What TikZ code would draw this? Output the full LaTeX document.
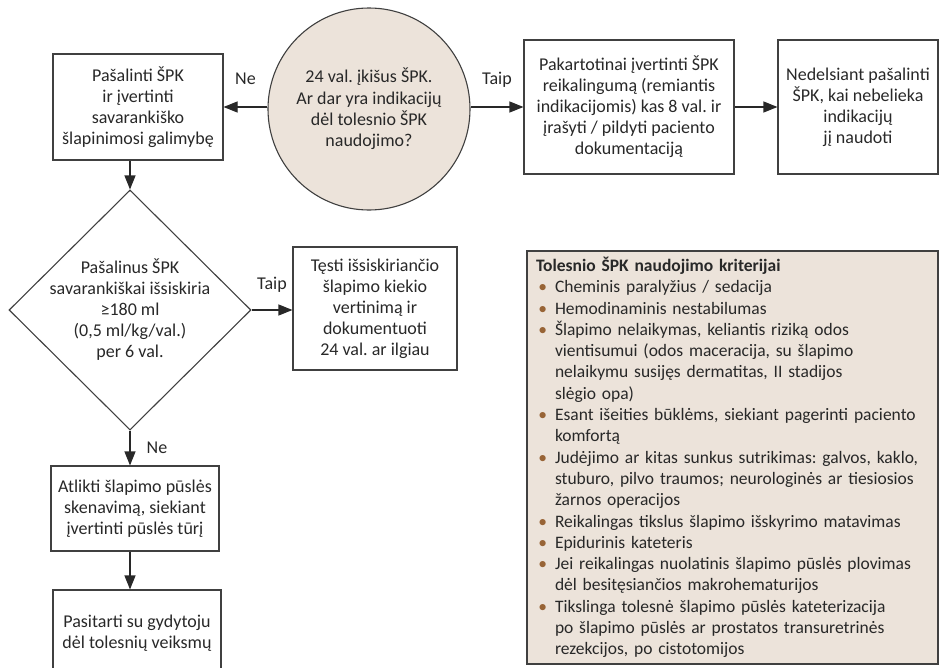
\documentclass[tikz,border=0pt]{standalone}
\usepackage{fontspec}
\setmainfont{Carlito}
\usepackage{enumitem}
\usetikzlibrary{shapes.geometric,arrows.meta}
\frenchspacing

\definecolor{beige}{RGB}{236,227,218}
\definecolor{boxline}{RGB}{64,64,64}
\definecolor{bulletbrown}{RGB}{152,100,54}
\definecolor{ink}{RGB}{40,40,40}

\tikzset{
  stepbox/.style={draw=boxline, line width=1.1pt, rectangle, align=center, inner sep=2pt,
    font=\fontsize{18}{21}\selectfont, text=ink},
  roundq/.style={draw=boxline, line width=1.1pt, circle, fill=beige, minimum size=202pt,
    align=center, inner sep=0pt, font=\fontsize{18}{21.3}\selectfont, text=ink},
  decision/.style={diamond, draw=boxline, line width=1.1pt, minimum width=242pt,
    minimum height=240pt, inner sep=0pt},
  critbox/.style={draw=boxline, line width=1.1pt, fill=beige, minimum width=411pt,
    minimum height=413pt, text width=393pt, inner xsep=9pt, align=left,
    font=\fontsize{17.5}{21.3}\selectfont, text=ink},
  arr/.style={-{Triangle[length=14pt,width=11pt]}, line width=1.1pt, draw=ink},
  lbl/.style={inner sep=0pt, font=\fontsize{18}{21}\selectfont, text=ink},
}

\begin{document}
\begin{tikzpicture}[x=1pt,y=-1pt]
\clip (0,0) rectangle (940,667);
% Nodes
\node[roundq] (q1) at (369,109) {24 val. įkišus ŠPK.\\ Ar dar yra indikacijų\\ dėl tolesnio ŠPK\\ naudojimo?};
\node[stepbox, minimum width=170pt, minimum height=106pt] (b1) at (138,107) {Pašalinti ŠPK\\ ir įvertinti\\ savarankiško\\ šlapinimosi galimybę};
\node[stepbox, minimum width=210pt, minimum height=134pt] (b2) at (629,107) {Pakartotinai įvertinti ŠPK\\ reikalingumą (remiantis\\ indikacijomis) kas 8 val. ir\\ įrašyti / pildyti paciento\\ dokumentaciją};
\node[stepbox, minimum width=160pt, minimum height=134pt] (b3) at (858,107) {Nedelsiant pašalinti\\ ŠPK, kai nebelieka\\ indikacijų\\ jį naudoti};
\node[decision] (d1) at (130,310) {};
\node[lbl, align=center] (d1t) at (d1.center) {Pašalinus ŠPK\\ savarankiškai išsiskiria\\ ≥180 ml\\ (0,5 ml/kg/val.)\\ per 6 val.};
\node[stepbox, minimum width=164pt, minimum height=123pt] (t1) at (375,308.5) {Tęsti išsiskiriančio\\ šlapimo kiekio\\ vertinimą ir\\ dokumentuoti\\ 24 val. ar ilgiau};
\node[stepbox, minimum width=168pt, minimum height=85pt] (a1) at (135,508.5) {Atlikti šlapimo pūslės\\ skenavimą, siekiant\\ įvertinti pūslės tūrį};
\node[stepbox, minimum width=168pt, minimum height=86pt] (p1) at (137,633) {Pasitarti su gydytoju\\ dėl tolesnių veiksmų};
\node[critbox] (k1) at (732.5,457.5) {%
  \textbf{Tolesnio ŠPK naudojimo kriterijai}
  \begin{itemize}[label={\color{bulletbrown}\textbullet}, leftmargin=19pt, labelsep=8pt,
      topsep=0pt, itemsep=0pt, parsep=0pt, partopsep=0pt]
  \item Cheminis paralyžius / sedacija
  \item Hemodinaminis nestabilumas
  \item Šlapimo nelaikymas, keliantis riziką odos\\ vientisumui (odos maceracija, su šlapimo\\ nelaikymu susijęs dermatitas, II stadijos\\ slėgio opa)
  \item Esant išeities būklėms, siekiant pagerinti paciento\\ komfortą
  \item Judėjimo ar kitas sunkus sutrikimas: galvos, kaklo,\\ stuburo, pilvo traumos; neurologinės ar tiesiosios\\ žarnos operacijos
  \item Reikalingas tikslus šlapimo išskyrimo matavimas
  \item Epidurinis kateteris
  \item Jei reikalingas nuolatinis šlapimo pūslės plovimas\\ dėl besitęsiančios makrohematurijos
  \item Tikslinga tolesnė šlapimo pūslės kateterizacija\\ po šlapimo pūslės ar prostatos transuretrinės\\ rezekcijos, po cistotomijos
  \end{itemize}};

% connectors
\draw[arr] (b1.east -| q1.west) -- node[lbl, yshift=28pt] {Ne} (b1.east);
\draw[arr] (b2.west -| q1.east) -- node[lbl, yshift=27pt] {Taip} (b2.west);
\draw[arr] (b2.east) -- (b2.east -| b3.west);
\draw[arr] (b1.south -| d1.north) -- (d1.north);
\draw[arr] (d1.east) -- node[lbl, yshift=25pt] {Taip} (d1.east -| t1.west);
\draw[arr] (d1.south) -- node[lbl, xshift=27pt] {Ne} (d1.south |- a1.north);
\draw[arr] (a1.south -| d1.south) -- (p1.north -| d1.south);
\end{tikzpicture}
\end{document}
